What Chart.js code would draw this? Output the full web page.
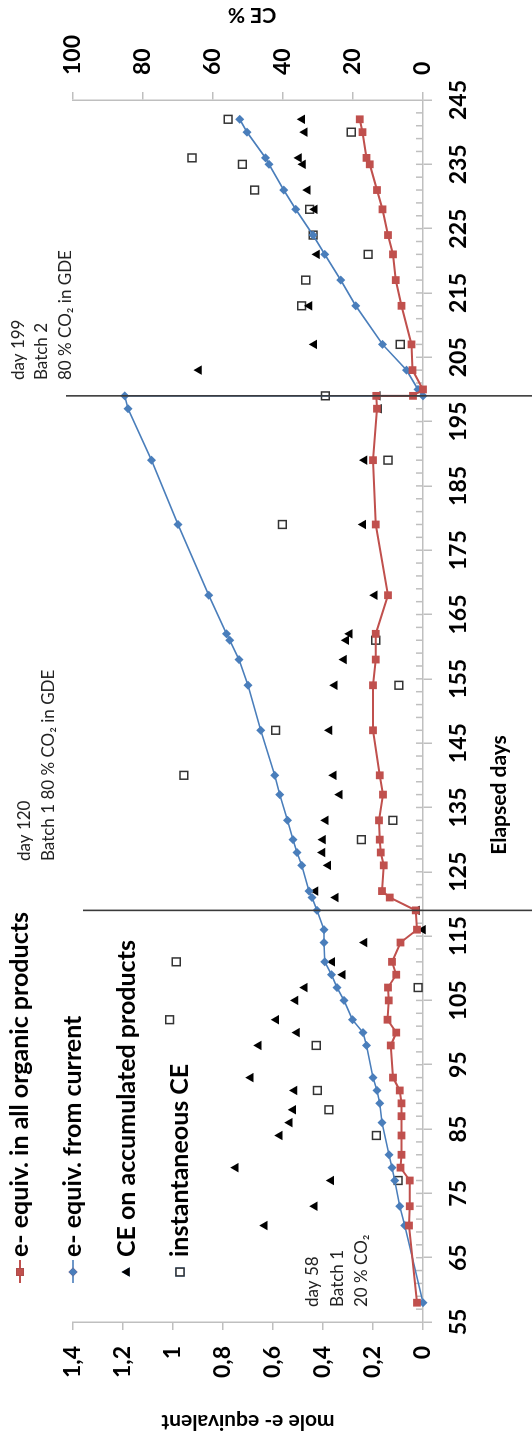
<!DOCTYPE html>
<html>
<head>
<meta charset="utf-8">
<script src="https://cdn.jsdelivr.net/npm/chart.js@4"></script>
<style>
  html, body { margin: 0; padding: 0; background: #fff; overflow: hidden; }
  /* the chart is drawn landscape, then turned a quarter to the left like the source figure */
  #wrap { position: absolute; left: 0; top: 0; width: 1438px; height: 532px;
          transform-origin: 0 0; transform: translateY(1438px) rotate(-90deg); }
</style>
</head>
<body>
<div id="wrap"><canvas id="chart" width="1438" height="532"></canvas></div>
<script>
// elapsed days / values
const redDays = [58, 70, 73, 77, 79, 81, 84, 87, 89, 91, 93, 98, 100, 102, 105, 107, 109, 111, 114, 116,
  119, 121, 122, 126, 128, 130, 133, 137, 140, 147, 154, 158, 162, 168, 179, 189, 197, 199, 199, 200,
  203, 207, 213, 217, 221, 224, 228, 231, 235, 236, 240, 242];
const redVals = [0.024, 0.056, 0.053, 0.053, 0.09, 0.086, 0.086, 0.086, 0.086, 0.093, 0.12, 0.129, 0.107, 0.142, 0.137, 0.14, 0.107, 0.124, 0.09, 0.024,
  0.029, 0.133, 0.164, 0.157, 0.169, 0.173, 0.176, 0.16, 0.173, 0.2, 0.2, 0.189, 0.189, 0.14, 0.189, 0.2, 0.184, 0.187, 0.04, 0.0,
  0.042, 0.046, 0.086, 0.109, 0.12, 0.14, 0.162, 0.184, 0.213, 0.226, 0.242, 0.253];

const blueDays = [58, 70, 73, 77, 79, 81, 86, 89, 91, 93, 98, 100, 102, 105, 107, 109, 111, 114, 116, 119,
  121, 122, 126, 128, 130, 133, 137, 140, 147, 154, 158, 161, 162, 168, 179, 189, 197, 199, 199, 200,
  203, 207, 213, 217, 221, 224, 228, 231, 235, 236, 240, 242];
const blueVals = [0, 0.073, 0.093, 0.113, 0.124, 0.136, 0.164, 0.173, 0.184, 0.2, 0.226, 0.24, 0.282, 0.316, 0.344, 0.366, 0.393, 0.396, 0.396, 0.424,
  0.444, 0.456, 0.485, 0.504, 0.52, 0.542, 0.573, 0.593, 0.649, 0.7, 0.736, 0.773, 0.786, 0.857, 0.98, 1.086, 1.18, 1.193, 0, 0.02,
  0.066, 0.162, 0.269, 0.329, 0.393, 0.44, 0.509, 0.557, 0.616, 0.63, 0.704, 0.733];

const triDays = [70, 73, 77, 79, 84, 86, 88, 91, 93, 98, 100, 102, 105, 107, 109, 111, 114, 116, 119, 121,
  122, 126, 128, 130, 133, 137, 140, 147, 154, 158, 161, 162, 168, 179, 189, 197, 199, 203, 207, 213,
  221, 228, 231, 235, 236, 240, 242];
const triVals = [45.2, 30.9, 26.2, 53.5, 40.9, 38.1, 37.1, 36.7, 49.2, 46.9, 36, 41.9, 36.4, 33.8, 22.9, 25.9, 16.7, 0, 1.7, 24.9,
  30.7, 27.1, 28.7, 28.6, 27.8, 23.8, 25.5, 26.7, 25.2, 22.6, 21.9, 20.9, 13.8, 17.1, 16.7, 12.6, 12.9, 64, 31.1, 32.4,
  30.3, 30.9, 32.9, 34.3, 35.4, 33.8, 34.5];

const sqDays = [77, 84, 88, 91, 98, 102, 107, 111, 130, 133, 140, 147, 154, 161, 179, 189, 199, 207, 213, 217,
  221, 224, 228, 231, 235, 236, 240, 242];
const sqVals = [7.1, 13.3, 26.9, 30.2, 30.5, 72.4, 1.4, 70.5, 17.6, 8.6, 68.3, 42.1, 6.9, 13.5, 40.2, 10, 27.9, 6.5, 34.7, 33.5,
  15.7, 31.4, 32.4, 48.1, 51.6, 66, 20.5, 55.7];

const seriesNames = ['e- equiv. in all organic products', 'e- equiv. from current',
  'CE on accumulated products', 'instantaneous CE'];
const batchDays = [119, 199];
const notes = [
  ['day 58', 'Batch 1', '20 % CO\u2082'],
  ['day 120', 'Batch 1 80 % CO\u2082 in GDE'],
  ['day 199', 'Batch 2', '80 % CO\u2082 in GDE']
];

const FONT = "Lato, 'DejaVu Sans', sans-serif";
const AXIS = '#BFBFBF';
const RED = '#C0504D';
const BLUE = '#4A7EBB';

function pts(xs, ys) {
  return xs.map((x, i) => ({ x: x, y: ys[i] }));
}

function marker(ctx, style, x, y, r, fill, stroke, bw) {
  Chart.helpers.drawPoint(ctx, { pointStyle: style, rotation: 0, radius: r, borderWidth: bw }, x, y);
  ctx.fillStyle = fill;
  ctx.fill();
  if (bw > 0) { ctx.strokeStyle = stroke; ctx.lineWidth = bw; ctx.stroke(); }
}

const decor = {
  id: 'decor',
  beforeDatasetsDraw(chart) {
    const { ctx, chartArea } = chart;
    const x = chart.scales.x;
    ctx.save();
    // small inward ticks every two days
    ctx.strokeStyle = AXIS;
    ctx.lineWidth = 1.5;
    ctx.beginPath();
    for (let d = 57; d < 245; d += 2) {
      const px = x.getPixelForValue(d);
      ctx.moveTo(px, chartArea.bottom);
      ctx.lineTo(px, chartArea.bottom - 7);
    }
    ctx.stroke();
    ctx.restore();
  },
  afterDatasetsDraw(chart) {
    const { ctx } = chart;
    const x = chart.scales.x;
    const tops = [83, 66];
    ctx.save();
    ctx.strokeStyle = '#3a3a3a';
    ctx.lineWidth = 1.6;
    batchDays.forEach((d, i) => {
      const px = x.getPixelForValue(d);
      ctx.beginPath();
      ctx.moveTo(px, tops[i]);
      ctx.lineTo(px, chart.height);
      ctx.stroke();
    });
    ctx.restore();
  },
  afterDraw(chart) {
    const { ctx } = chart;
    ctx.save();

    // notes next to each batch start
    ctx.font = '17px ' + FONT;
    ctx.fillStyle = '#222';
    ctx.textAlign = 'left';
    ctx.textBaseline = 'middle';
    const noteX = [131, 577, 1058];
    const noteY = [[313, 338, 362], [25, 49], [19, 42, 66]];
    notes.forEach((lines, i) => {
      lines.forEach((t, j) => ctx.fillText(t, noteX[i], noteY[i][j]));
    });

    // legend
    const ly = [20, 73, 127, 180];
    ctx.lineWidth = 2;
    ctx.strokeStyle = RED;
    ctx.beginPath(); ctx.moveTo(155, ly[0]); ctx.lineTo(178, ly[0]); ctx.stroke();
    marker(ctx, 'rect', 166, ly[0], 5.5, RED, RED, 0);
    ctx.strokeStyle = BLUE;
    ctx.lineWidth = 1.6;
    ctx.beginPath(); ctx.moveTo(155, ly[1]); ctx.lineTo(178, ly[1]); ctx.stroke();
    marker(ctx, 'rectRot', 166, ly[1], 4.5, BLUE, BLUE, 0);
    marker(ctx, 'triangle', 166, ly[2], 5.5, '#000', '#000', 0);
    marker(ctx, 'rect', 166, ly[3], 5.5, '#fff', '#333', 1.5);
    ctx.font = 'bold 25px ' + FONT;
    ctx.fillStyle = '#000';
    seriesNames.forEach((t, i) => ctx.fillText(t, 181, ly[i]));

    // axis titles that Chart.js would not place this way
    ctx.font = 'bold 21px ' + FONT;
    ctx.textAlign = 'center';
    ctx.fillText('Elapsed days', 643, 499);
    ctx.translate(1423, 252);
    ctx.rotate(-Math.PI / 2);
    ctx.fillText('CE %', 0, 0);
    ctx.restore();
  }
};

const tickFont = { family: FONT, size: 23, weight: 'bold' };

new Chart(document.getElementById('chart'), {
  type: 'line',
  data: {
    datasets: [
      {
        label: seriesNames[0], data: pts(redDays, redVals), yAxisID: 'y',
        borderColor: RED, backgroundColor: RED, borderWidth: 2, fill: false,
        pointStyle: 'rect', pointRadius: 5.5, pointBorderWidth: 0, clip: false
      },
      {
        label: seriesNames[1], data: pts(blueDays, blueVals), yAxisID: 'y',
        borderColor: BLUE, backgroundColor: BLUE, borderWidth: 1.6, fill: false,
        pointStyle: 'rectRot', pointRadius: 4.5, pointBorderWidth: 0, clip: false
      },
      {
        label: seriesNames[2], data: pts(triDays, triVals), yAxisID: 'y2', showLine: false,
        backgroundColor: '#000', borderColor: '#000',
        pointStyle: 'triangle', pointRadius: 5.5, pointBorderWidth: 0, clip: false
      },
      {
        label: seriesNames[3], data: pts(sqDays, sqVals), yAxisID: 'y2', showLine: false,
        backgroundColor: '#fff', borderColor: '#333',
        pointStyle: 'rect', pointRadius: 5.5, pointBorderWidth: 1.5, clip: false
      }
    ]
  },
  options: {
    responsive: false,
    animation: false,
    devicePixelRatio: 1,
    layout: { padding: { top: 73, left: 0, right: 0, bottom: 0 } },
    plugins: { legend: { display: false }, tooltip: { enabled: false } },
    scales: {
      x: {
        type: 'linear', min: 55, max: 245,
        ticks: { stepSize: 10, font: tickFont, color: '#000', padding: 13, maxRotation: 0, autoSkip: false },
        grid: { drawOnChartArea: false, tickLength: 9, color: AXIS, lineWidth: 1.5 },
        border: { color: AXIS, width: 1.5 },
        afterFit: s => { s.height = 109; }
      },
      y: {
        position: 'left', min: 0, max: 1.4,
        ticks: {
          stepSize: 0.2, font: tickFont, color: '#000', padding: 16,
          callback: v => String(Math.round(v * 10) / 10).replace('.', ',')
        },
        grid: { drawOnChartArea: false, tickLength: 8, color: AXIS, lineWidth: 1.5 },
        border: { color: AXIS, width: 1.5 },
        title: { display: true, text: 'mole e- equivalent', color: '#000',
                 font: { family: FONT, size: 21, weight: 'bold' }, padding: { top: 4, bottom: 0 } },
        afterFit: s => { s.width = 116; }
      },
      y2: {
        position: 'right', min: 0, max: 100,
        ticks: { stepSize: 20, font: tickFont, color: '#000', padding: 17 },
        grid: { drawOnChartArea: false, tickLength: 8, color: AXIS, lineWidth: 1.5 },
        border: { color: AXIS, width: 1.5 },
        afterFit: s => { s.width = 100; }
      }
    }
  },
  plugins: [decor]
});
</script>
</body>
</html>
